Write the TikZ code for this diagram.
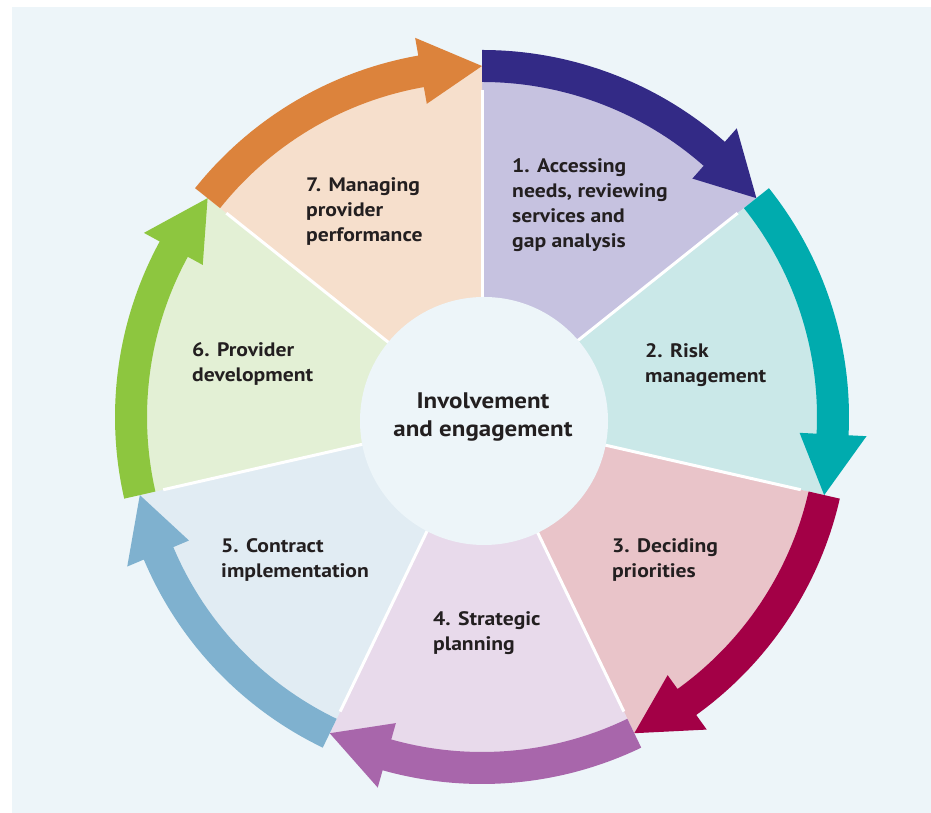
\documentclass[tikz,border=0pt]{standalone}
\usepackage{fontspec}
\setmainfont{PT Sans}[FakeStretch=1.11]
\usetikzlibrary{calc}
\definecolor{bg}{HTML}{EDF5F9}
\definecolor{hubfill}{HTML}{EDF5F9}
\definecolor{txt}{HTML}{231F20}
\definecolor{navy}{HTML}{332A86}
\definecolor{lav}{HTML}{C6C2E0}
\definecolor{teal}{HTML}{00ABAE}
\definecolor{tealf}{HTML}{CAE8E8}
\definecolor{crim}{HTML}{A30046}
\definecolor{pinkf}{HTML}{E9C4C9}
\definecolor{purp}{HTML}{A866AB}
\definecolor{purpf}{HTML}{E8DAEB}
\definecolor{lblue}{HTML}{7FB1CF}
\definecolor{bluef}{HTML}{E1ECF3}
\definecolor{grn}{HTML}{8DC63F}
\definecolor{grnf}{HTML}{E3F0D5}
\definecolor{orng}{HTML}{DC833C}
\definecolor{peach}{HTML}{F6DFCC}
\newcommand\lblock[1]{\begin{tabular}[t]{@{}l@{}}#1\end{tabular}}
\newcommand\cblock[1]{\begin{tabular}[t]{@{}c@{}}#1\end{tabular}}
\tikzset{
  steplabel/.style={inner sep=0pt, anchor=base west, text=txt,
    font=\fontsize{19.5}{25}\selectfont\bfseries},
  hublabel/.style={inner sep=0pt, anchor=base, text=txt,
    font=\fontsize{22.5}{28}\selectfont\bfseries},
  sepline/.style={white, line width=3pt}
}
\begin{document}
\begin{tikzpicture}[x=1pt,y=1pt]
\useasboundingbox (0,0) rectangle (931,813);
\fill[bg] (12,0) rectangle (931,806);
\coordinate (C) at (482,396);
% sectors
\foreach \k/\fc in {0/lav,1/tealf,2/pinkf,3/purpf,4/bluef,5/grnf,6/peach}{
  \pgfmathsetmacro\as{90-51.4286*\k}
  \pgfmathsetmacro\ae{\as-51.4286}
  \fill[\fc] (C) -- ($(C)+(\as:351)$) arc[start angle=\as, end angle=\ae, radius=351] -- cycle;
}
% separator lines
\foreach \k in {0,...,6}{
  \pgfmathsetmacro\as{90-51.4286*\k}
  \draw[sepline] (C) -- ($(C)+(\as:327)$);
}
% hub
\node[circle, fill=hubfill, minimum size=248pt, inner sep=0pt] (hub) at (484,392) {};
% arrows
\foreach \k/\ac in {0/navy,1/teal,2/crim,3/purp,4/lblue,5/grn,6/orng}{
  \pgfmathsetmacro\as{90-51.4286*\k}
  \pgfmathsetmacro\ae{\as-51.4286}
  \pgfmathsetmacro\ah{\ae+10}
  \fill[\ac] ($(C)+(\as:367)$) arc[start angle=\as, end angle=\ah, radius=367]
     -- ($(C)+(\ah:385)$) -- ($(C)+(\ae:351)$) -- ($(C)+(\ah:318)$)
     -- ($(C)+(\ah:335)$) arc[start angle=\ah, end angle=\as, radius=335] -- cycle;
}
% labels
\node[hublabel] (hubtext) at (483,404) {\cblock{Involvement\\and engagement}};
\node[steplabel] (s1) at (512,640) {\lblock{1. Accessing\\needs, reviewing\\services and\\gap analysis}};
\node[steplabel] (s2) at (645,455) {\lblock{2. Risk\\management}};
\node[steplabel] (s3) at (612,260) {\lblock{3. Deciding\\priorities}};
\node[steplabel] (s4) at (433,187) {\lblock{4. Strategic\\planning}};
\node[steplabel] (s5) at (221,260) {\lblock{5. Contract\\implementation}};
\node[steplabel] (s6) at (192,456) {\lblock{6. Provider\\development}};
\node[steplabel] (s7) at (306,621) {\lblock{7. Managing\\provider\\performance}};
\end{tikzpicture}
\end{document}
